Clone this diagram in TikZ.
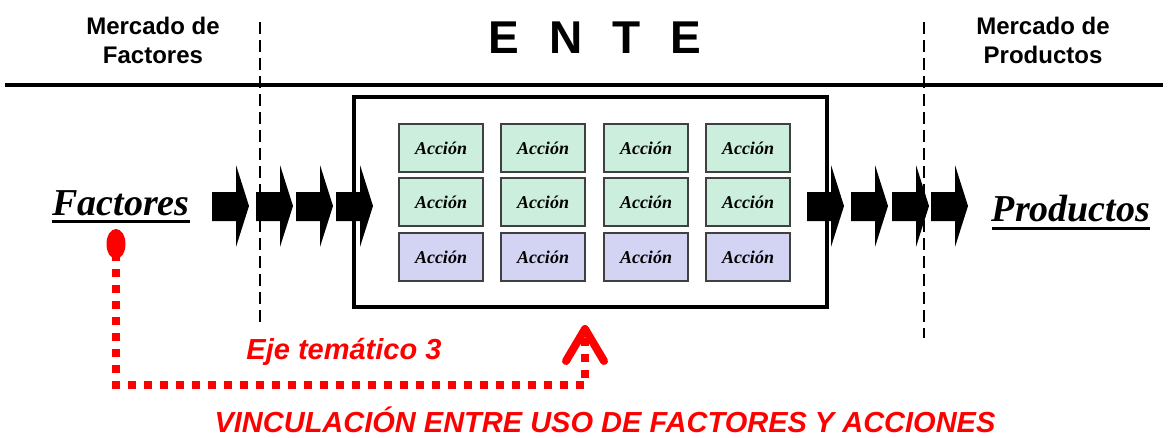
\documentclass[tikz,border=0pt]{standalone}
\usepackage{fontspec}
\setmainfont{Liberation Serif}
\setsansfont{Liberation Sans}
\usepackage{xcolor}
\usepackage{tikz}
\usetikzlibrary{arrows.meta,positioning,shapes}

\definecolor{accgreen}{HTML}{CCEEDC}
\definecolor{acclila}{HTML}{D3D3F3}

\begin{document}
\begin{tikzpicture}[x=1pt, y=-1pt,
  market/.style={font=\sffamily\bfseries\fontsize{24}{29}\selectfont, align=center, inner sep=0pt},
  accion/.style={draw=black!75, line width=1.2pt, minimum width=84pt, minimum height=48pt,
    inner sep=0pt, font=\bfseries\itshape\fontsize{18}{20}\selectfont},
  flow/.style={font=\bfseries\itshape\fontsize{38}{40}\selectfont, inner sep=0pt},
  border/.style={dash pattern=on 12pt off 6pt, line width=1.6pt},
  redtext/.style={text=red, font=\sffamily\bfseries\itshape\fontsize{29}{32}\selectfont},
  link/.style={red, line width=8pt, dash pattern=on 8pt off 8pt,
    -{Straight Barb[length=32pt, width=38pt, line cap=round, line join=round]}}]

\useasboundingbox (0,0) rectangle (1168,437);

% flechas de entrada y salida
\foreach \x in {212,256,296,336,807,851,892,931}
  \fill (\x,192) -- (\x+24,192) -- (\x+24,165) -- (\x+37,206) -- (\x+24,247)
    -- (\x+24,221) -- (\x,221) -- cycle;

\draw[line width=4pt] (5,85) -- (1163,85);
\draw[border] (260,22) -- (260,326);
\draw[border] (924,22) -- (924,338);

\node[market] (mfac) at (153,40) {Mercado de\\Factores};
\node[market] (mprod) at (1043,40) {Mercado de\\Productos};
\node[font=\sffamily\bfseries\fontsize{46}{46}\selectfont, inner sep=0pt] (titulo) at (595,38)
  {\spaceskip=30pt E N T E};

\node[draw, line width=4pt, minimum width=473pt, minimum height=210pt, inner sep=0pt]
  (ente) at (590.5,202) {};

\foreach \c [count=\i] in {441,543,646,748}
  \foreach \r/\col [count=\j] in {148/accgreen,202/accgreen,257/acclila}
    \node[accion, fill=\col] (acc\j\i) at (\c,\r) {Acción};

\node[flow, anchor=base] (fac) at (121,215) {Factores};
\node[flow, anchor=base] (prod) at (1071,221) {Productos};
\draw[line width=3pt] ([yshift=-6pt]fac.base west) -- ([yshift=-6pt]fac.base east);
\draw[line width=3pt] ([yshift=-7pt]prod.base west) -- ([yshift=-7pt]prod.base east);

\node[ellipse, fill=red, minimum width=19pt, minimum height=30pt, inner sep=0pt] (pin) at (116,244) {};
\coordinate (turn) at (585,385);
\draw[link, shorten >=16pt] ([yshift=6pt]pin.south) |- (turn) -- (ente.south -| turn);

\node[redtext] (eje) at (344,352) {Eje temático 3};
\node[redtext] (vinc) at (605,420) {VINCULACIÓN ENTRE USO DE FACTORES Y ACCIONES};
\end{tikzpicture}
\end{document}
